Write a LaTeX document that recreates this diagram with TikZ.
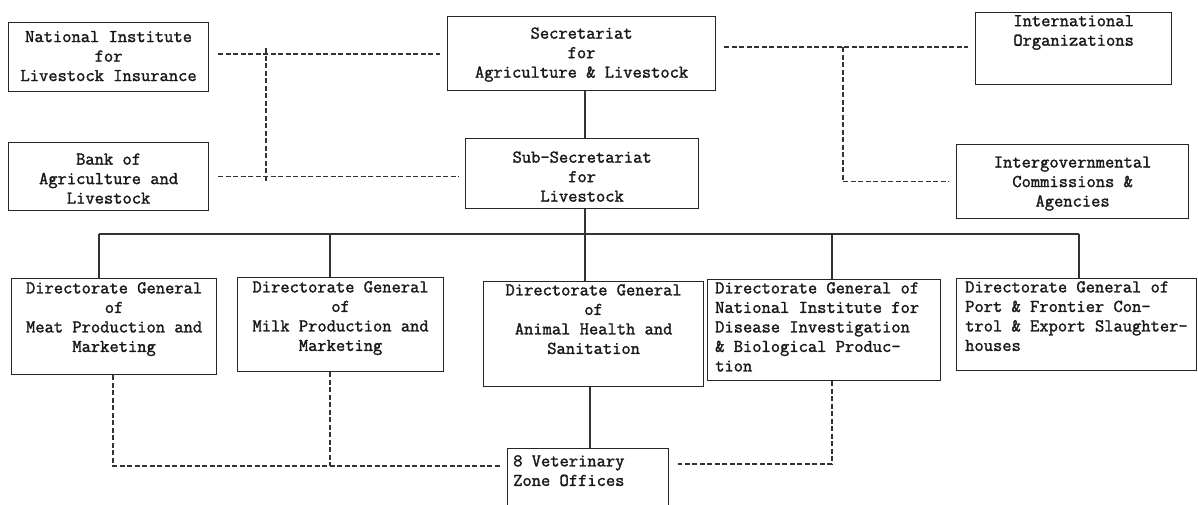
\documentclass[tikz,border=0pt]{standalone}
\usepackage{fontspec}
\newfontfamily\twfam{Latin Modern Mono}[FakeBold=1.6]
\newcommand{\tw}{\twfam\fontsize{18}{19.5}\selectfont}
\tikzset{
  box/.style={draw=black!85, line width=1.2pt, inner sep=0pt, anchor=north west},
  txt/.style={font=\tw, inner sep=0pt, align=center, anchor=north, text=black!90},
  ctxt/.style={font=\tw, inner sep=0pt, align=center, text=black!90},
  ltxt/.style={font=\tw, inner sep=0pt, align=left, anchor=north west, text=black!90},
  solidline/.style={draw=black!80, line width=1.2pt},
  dashline/.style={draw=black!80, line width=1.1pt, dash pattern=on 5pt off 2.5pt}
}
\begin{document}
\begin{tikzpicture}[x=1pt,y=-1pt]
\useasboundingbox (0,0) rectangle (1198,504);
\clip (0,0) rectangle (1198,504);
\fill[white] (0,0) rectangle (1198,504);
% boxes
\node[box, minimum width=200pt, minimum height=69pt] (ni) at (8,22) {};
\node[ctxt] (nit) at ([yshift=1pt]ni.center) {National Institute\\for\\Livestock Insurance};
\node[box, minimum width=200pt, minimum height=68pt] (bank) at (8,142) {};
\node[ctxt] (bankt) at ([yshift=-2pt]bank.center) {Bank of\\Agriculture and\\Livestock};
\node[box, minimum width=268pt, minimum height=74pt] (sec) at (447,16) {};
\node[ctxt] (sect) at ([yshift=-1pt]sec.center) {Secretariat\\for\\Agriculture \& Livestock};
\node[box, minimum width=233pt, minimum height=70pt] (sub) at (465,138) {};
\node[ctxt] (subt) at ([yshift=-3pt]sub.center) {Sub-Secretariat\\for\\Livestock};
\node[box, minimum width=196pt, minimum height=72pt] (intl) at (975,12) {};
\node[txt] (intlt) at ([yshift=-3pt]intl.north) {International\\Organizations};
\node[box, minimum width=232pt, minimum height=74pt] (igov) at (956,144) {};
\node[ctxt] (igovt) at ([yshift=-2pt]igov.center) {Intergovernmental\\Commissions \&\\Agencies};
\node[box, minimum width=205pt, minimum height=96pt] (d1) at (11,278) {};
\node[txt] (d1t) at ([yshift=-4pt]d1.north) {Directorate General\\of\\Meat Production and\\Marketing};
\node[box, minimum width=206pt, minimum height=94pt] (d2) at (237,277) {};
\node[txt] (d2t) at ([yshift=-4pt]d2.north) {Directorate General\\of\\Milk Production and\\Marketing};
\node[box, minimum width=220pt, minimum height=105pt] (d3) at (483,281) {};
\node[txt] (d3t) at ([yshift=-3pt]d3.north) {Directorate General\\of\\Animal Health and\\Sanitation};
\node[box, minimum width=233pt, minimum height=101pt] (d4) at (707,279) {};
\node[ltxt] (d4t) at ([xshift=8pt,yshift=-3pt]d4.north west) {Directorate General of\\National Institute for\\Disease Investigation\\\& Biological Produc-\\tion};
\node[box, minimum width=240pt, minimum height=92pt] (d5) at (956,278) {};
\node[ltxt] (d5t) at ([xshift=9pt,yshift=-3pt]d5.north west) {Directorate General of\\Port \& Frontier Con-\\trol \& Export Slaughter-\\houses};
\node[box, minimum width=161pt, minimum height=70pt] (vet) at (507,448) {};
\node[ltxt] (vett) at ([xshift=6pt,yshift=-7pt]vet.north west) {8 Veterinary\\Zone Offices};
% junction coordinates
\coordinate (jl) at (266,54);
\coordinate (jr) at (843,47);
\coordinate (bus) at (585,234);
% top-left dashed links
\draw[dashline] ([xshift=9pt]ni.east |- jl) -- ([xshift=-7pt]sec.west |- jl);
\draw[dashline] ([yshift=6pt]jl) -- ([yshift=-5pt]jl |- bank.center);
\draw[dashline] ([xshift=9pt]bank.east) -- ([xshift=-6pt]sub.west |- bank.center);
% top-right dashed links
\draw[dashline] ([xshift=8pt]sec.east |- jr) -- ([xshift=-7pt]intl.west |- jr);
\draw[dashline] (jr) -- (jr |- igov.center) -- ([xshift=-7pt]igov.west);
% solid hierarchy
\draw[solidline] (sec.south -| bus) -- (sub.north -| bus);
\draw[solidline] (sub.south -| bus) -- (bus);
\draw[solidline] (99,234) -- (1079,234);
\draw[solidline] (99,234) -- (d1.north -| 99,0);
\draw[solidline] (330,234) -- (d2.north -| 330,0);
\draw[solidline] (bus) -- (d3.north -| bus);
\draw[solidline] (832,234) -- (d4.north -| 832,0);
\draw[solidline] (1079,234) -- (d5.north -| 1079,0);
% bottom links
\coordinate (bl) at (113,466);
\coordinate (br) at (832,464);
\draw[dashline] (d1.south -| bl) -- (bl) -- ([xshift=-7pt]vet.west |- bl);
\draw[dashline] (d2.south -| 330,0) -- (330,466);
\draw[solidline] (d3.south -| 590,0) -- (vet.north -| 590,0);
\draw[dashline] (d4.south -| br) -- (br) -- ([xshift=9pt]vet.east |- br);
\end{tikzpicture}
\end{document}
